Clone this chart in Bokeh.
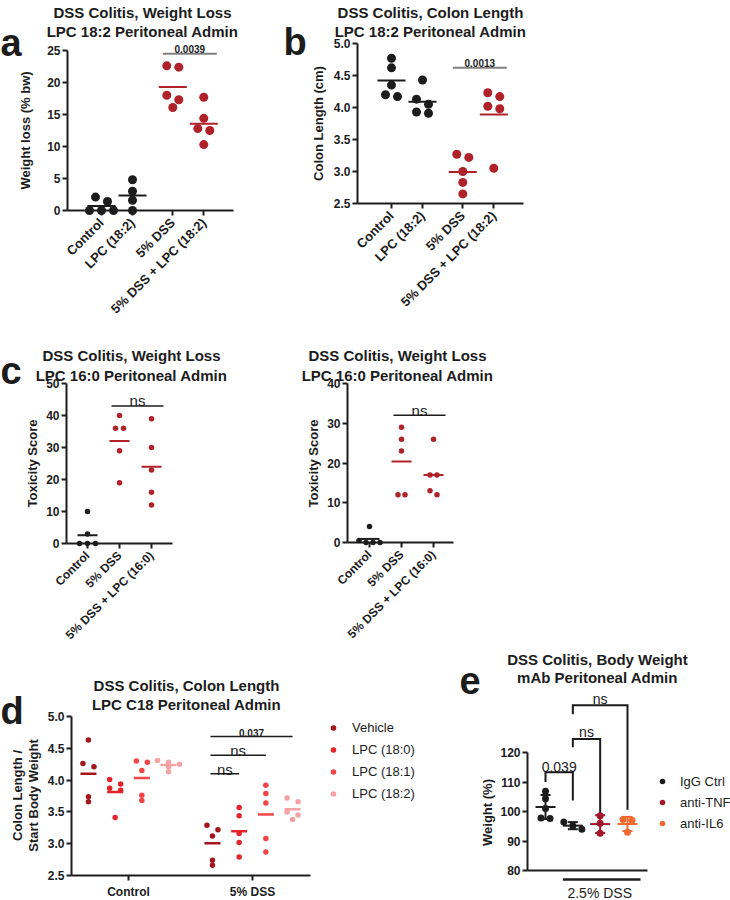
import math
from bokeh.plotting import figure
from bokeh.models import Range1d, FixedTicker, Label, Legend, LegendItem, PrintfTickFormatter
from bokeh.layouts import row, column
from bokeh.embed import file_html
from bokeh.resources import INLINE
from bokeh.core.properties import value

FONT = "Liberation Sans"
INK = "#1c1c1c"
GREY = "#808080"
RED = "#b0222a"

# ---------------- data ----------------
a_labels = ["Control", "LPC (18:2)", "5% DSS", "5% DSS + LPC (18:2)"]
a_control = [2.1, 1.4, 0.0, 0.0, 0.0]
a_lpc = [4.8, 3.0, 1.6, 0.0]
a_dss = [22.6, 22.4, 18.0, 17.3, 16.1]
a_dss_lpc = [17.7, 14.4, 12.8, 12.5, 10.3]
a_p = "0.0039"
a_bar_y = 24.5

b_labels = ["Control", "LPC (18:2)", "5% DSS", "5% DSS + LPC (18:2)"]
b_control = [4.77, 4.62, 4.35, 4.20, 4.17]
b_lpc = [4.43, 4.13, 4.05, 3.93, 3.91]
b_dss = [3.27, 3.22, 3.00, 2.83, 2.65]
b_dss_lpc = [4.23, 4.17, 4.02, 3.98, 3.05]
b_p = "0.0013"
b_bar_y = 4.62

c_labels = ["Control", "5% DSS", "5% DSS + LPC (16:0)"]
c1_control = [10, 3, 0, 0, 0]
c1_dss = [40, 36, 36, 29, 19]
c1_dss_lpc = [39, 30, 23, 16, 12]
c1_bar_y = 43
c2_control = [4, 0.5, 0, 0, 0]
c2_dss = [29, 26, 23, 12, 12]
c2_dss_lpc = [26, 17, 17, 13, 12]
c2_bar_y = 32
c_sig = "ns"

d_categories = ["Control", "5% DSS"]
d_series = ["Vehicle", "LPC (18:0)", "LPC (18:1)", "LPC (18:2)"]
d_colors = ["#a3161c", "#e5232b", "#ef4448", "#f5a2a5"]
d_vehicle = [[4.63, 4.26, 4.21, 3.74, 3.66], [3.29, 3.22, 3.12, 2.74, 2.66]]
d_lpc_180 = [[4.01, 3.94, 3.87, 3.84, 3.41], [3.57, 3.44, 3.16, 3.02, 2.79]]
d_lpc_181 = [[4.30, 4.28, 4.15, 3.76, 3.68], [3.92, 3.79, 3.64, 3.08, 2.87]]
d_lpc_182 = [[4.31, 4.28, 4.25, 4.21, 4.13], [3.72, 3.66, 3.50, 3.45, 3.38]]
d_sig_series = [1, 2, 3]
d_sig_y = [4.10, 4.39, 4.685]
d_sig_text = ["ns", "ns", "0.037"]

e_series = ["IgG Ctrl", "anti-TNF", "anti-IL6"]
e_colors = ["#1c1c1c", "#a3172d", "#f26a2f"]
e_igg_ctrl = [106.9, 104.3, 101.0, 97.8, 97.6]
e_igg_dss = [96.4, 95.2, 94.0]
e_tnf_dss = [98.6, 96.0, 92.6]
e_il6_dss = [97.3, 97.0, 93.0]
e_pairs = [(0, 1), (1, 2), (1, 3)]
e_bracket_top = [113.3, 124.6, 136.0]
e_bracket_left = [110.0, 121.8, 133.0]
e_bracket_right = [103.7, 99.6, 100.6]
e_bracket_text = ["0.039", "ns", "ns"]
e_dss_text = "2.5%  DSS"


# ---------------- helpers ----------------
class Panel:
    """A figure whose frame covers the whole canvas; axes sit at fixed data locations."""

    def __init__(self, ox, oy, w, h, xmap, ymap):
        self.ox, self.oy = ox, oy
        self.xv0, self.xp0, self.kx = xmap
        yv0, yp0, yv1, yp1 = ymap
        self.yv0, self.yp0 = yv0, yp0
        self.ky = (yp1 - yp0) / (yv1 - yv0)
        self.p = figure(width=w, height=h,
                        x_range=Range1d(self.X(ox), self.X(ox + w)),
                        y_range=Range1d(self.Y(oy + h), self.Y(oy)),
                        min_border=0, min_border_left=0, min_border_right=0,
                        min_border_top=0, min_border_bottom=0,
                        output_backend="svg", toolbar_location=None, tools="")
        p = self.p
        p.outline_line_color = None
        p.xgrid.grid_line_color = None
        p.ygrid.grid_line_color = None
        p.background_fill_color = "white"
        p.border_fill_color = "white"

    def X(self, px):
        return self.xv0 + (px - self.xp0) / self.kx

    def Y(self, py):
        return self.yv0 + (py - self.yp0) / self.ky

    def dx(self, d):
        return d / self.kx

    def dy(self, d):
        return d / abs(self.ky)

    def label(self, px, py, text, size, bold=False, align="center",
              baseline="alphabetic", angle=0.0):
        self.p.add_layout(Label(x=self.X(px), y=self.Y(py), text=text,
                                text_font=FONT, text_font_size=f"{size}px",
                                text_font_style="bold" if bold else "normal",
                                text_align=align, text_baseline=baseline,
                                angle=angle, text_color=INK))


def swarm(vals, px_per_unit, spacing, thresh):
    order = sorted(range(len(vals)), key=lambda i: -vals[i])
    rows = []
    for i in order:
        if rows and (vals[rows[-1][0]] - vals[i]) * px_per_unit < thresh:
            rows[-1].append(i)
        else:
            rows.append([i])
    offs = [0.0] * len(vals)
    for r in rows:
        n = len(r)
        for j, i in enumerate(r):
            offs[i] = (j - (n - 1) / 2) * spacing
    return offs


def style_axes(P, yaxis_px, yticks, ybounds, xaxis_val, xbounds_px, xticks, xlabels,
               rotate=True, yfmt=None, xsize="13px", xticks_visible=True):
    p = P.p
    ya, xa = p.yaxis[0], p.xaxis[0]
    for ax in (ya, xa):
        ax.axis_line_width = 2
        ax.axis_line_color = INK
        ax.major_tick_line_width = 2
        ax.major_tick_line_color = INK
        ax.major_tick_in = 0
        ax.major_tick_out = 5
        ax.minor_tick_line_color = None
        ax.major_label_text_font = FONT
        ax.major_label_text_font_style = "bold"
        ax.major_label_text_color = INK
    ya.fixed_location = P.X(yaxis_px)
    ya.ticker = FixedTicker(ticks=list(yticks))
    ya.bounds = ybounds
    ya.major_label_text_font_size = "12px"
    ya.major_label_standoff = 2
    if yfmt:
        ya.formatter = PrintfTickFormatter(format=yfmt)
    xa.fixed_location = xaxis_val
    xa.bounds = (P.X(xbounds_px[0]), P.X(xbounds_px[1]))
    xa.ticker = FixedTicker(ticks=list(xticks))
    xa.major_label_overrides = dict(zip(xticks, xlabels))
    xa.major_label_text_font_size = xsize
    xa.major_label_standoff = 5
    if rotate:
        xa.major_label_orientation = math.pi / 4
    if not xticks_visible:
        xa.major_tick_line_color = None


def dot_plot(P, positions, groups, colors, size, spacing, thresh, half_px, lw):
    for x, vals, col in zip(positions, groups, colors):
        offs = swarm(vals, abs(P.ky), spacing, thresh)
        P.p.scatter([x + P.dx(o) for o in offs], vals, size=size,
                    fill_color=col, line_color=None)
        m = sum(vals) / len(vals)
        P.p.segment([x - P.dx(half_px)], [m], [x + P.dx(half_px)], [m],
                    line_color=col, line_width=lw)


def sig_bar(P, x0, x1, y, text, size, bold, gap, color, lw=2):
    P.p.segment([x0], [y], [x1], [y], line_color=color, line_width=lw)
    P.p.text([(x0 + x1) / 2], [y + P.dy(gap)], text=[text],
             text_font=value(FONT), text_font_size=f"{size}px",
             text_font_style="bold" if bold else "normal",
             text_align="center", text_baseline="alphabetic", text_color=INK)


# ---------------- panel a ----------------
A = Panel(0, 0, 250, 315, (0, 101, 31), (0, 210, 25, 50))
a_pos = [i + (0.3 if i >= 2 else 0) for i in range(4)]
dot_plot(A, a_pos, [a_control, a_lpc, a_dss, a_dss_lpc], [INK, INK, RED, RED],
         9, 12, 7, 14, 2)
sig_bar(A, a_pos[2] - A.dx(10), a_pos[3] + A.dx(13), a_bar_y, a_p, 10, True, 4.5, GREY)
style_axes(A, 67, range(0, 26, 5), (0, 25), 0, (67, 233), a_pos, a_labels)
A.label(0, 42, "a", 38, bold=True, align="left")
A.label(142, 12, "DSS Colitis, Weight Loss", 15, bold=True)
A.label(142, 30.5, "LPC 18:2 Peritoneal Admin", 15, bold=True)
A.label(25, 130, "Weight loss (% bw)", 13, bold=True, baseline="middle", angle=math.pi / 2)

# ---------------- panel b ----------------
B = Panel(250, 0, 480, 315, (0, 391, 31), (2.5, 203, 5.0, 43))
dot_plot(B, a_pos, [b_control, b_lpc, b_dss, b_dss_lpc], [INK, INK, RED, RED],
         9, 12, 7, 14, 2)
sig_bar(B, a_pos[2] - B.dx(10), a_pos[3] + B.dx(13), b_bar_y, b_p, 10, True, 4.5, GREY)
style_axes(B, 357, [2.5, 3.0, 3.5, 4.0, 4.5, 5.0], (2.5, 5.0), 2.5, (357, 523),
           a_pos, b_labels, yfmt="%.1f")
B.label(283, 41, "b", 38, bold=True, align="left")
B.label(430, 12, "DSS Colitis, Colon Length", 15, bold=True)
B.label(430, 30.5, "LPC 18:2 Peritoneal Admin", 15, bold=True)
B.label(318, 123, "Colon Length (cm)", 13, bold=True, baseline="middle", angle=math.pi / 2)

# ---------------- panel c (left) ----------------
c_pos = [0, 1, 2]
C1 = Panel(0, 315, 250, 330, (0, 87, 32), (0, 543, 50, 383))
dot_plot(C1, c_pos, [c1_control, c1_dss, c1_dss_lpc], [INK, RED, RED], 5.5, 8, 4.5, 10, 2)
sig_bar(C1, c_pos[1] - C1.dx(8), c_pos[2] + C1.dx(12), c1_bar_y, c_sig, 15, False, 5, INK, 1.5)
style_axes(C1, 66, range(0, 51, 10), (0, 50), 0, (66, 172), c_pos, c_labels, xsize="12px")
C1.label(0, 370, "c", 38, bold=True, align="left")
C1.label(131, 355, "DSS Colitis, Weight Loss", 15, bold=True)
C1.label(131, 375, "LPC 16:0 Peritoneal Admin", 15, bold=True)
C1.label(32, 463, "Toxicity Score", 13, bold=True, baseline="middle", angle=math.pi / 2)

# ---------------- panel c (right) ----------------
C2 = Panel(250, 315, 480, 330, (0, 369, 32), (0, 542, 40, 383))
dot_plot(C2, c_pos, [c2_control, c2_dss, c2_dss_lpc], [INK, RED, RED], 5.5, 7, 4.5, 10, 2)
sig_bar(C2, c_pos[1] - C2.dx(8), c_pos[2] + C2.dx(12), c2_bar_y, c_sig, 15, False, 5, INK, 1.5)
style_axes(C2, 347, range(0, 41, 10), (0, 40), 0, (347, 453), c_pos, c_labels, xsize="12px")
C2.label(397, 355, "DSS Colitis, Weight Loss", 15, bold=True)
C2.label(397, 375, "LPC 16:0 Peritoneal Admin", 15, bold=True)
C2.label(313, 463, "Toxicity Score", 13, bold=True, baseline="middle", angle=math.pi / 2)

# ---------------- panel d ----------------
D = Panel(0, 645, 460, 255, (0, 128, 124), (2.5, 875, 5.0, 716))
d_data = [d_vehicle, d_lpc_180, d_lpc_181, d_lpc_182]
d_step = D.dx(26.7)
d_renderers = []
for i, (series, col) in enumerate(zip(d_data, d_colors)):
    xs, ys = [], []
    for c, vals in enumerate(series):
        xc = c + (i - 1.5) * d_step
        offs = swarm(vals, abs(D.ky), 11, 4.5)
        xs += [xc + D.dx(o) for o in offs]
        ys += vals
        m = sum(vals) / len(vals)
        D.p.segment([xc - D.dx(8)], [m], [xc + D.dx(8)], [m], line_color=col, line_width=2.5)
    r = D.p.scatter(xs, ys, size=5.5, fill_color=col, line_color=None)
    d_renderers.append(r)
vx = 1 + (0 - 1.5) * d_step
for t, yv, txt in zip(d_sig_series, d_sig_y, d_sig_text):
    xt = 1 + (t - 1.5) * d_step
    if txt == "ns":
        sig_bar(D, vx - D.dx(2), xt, yv, txt, 15, False, 4.5, INK, 1.5)
    else:
        sig_bar(D, vx - D.dx(2), xt, yv, txt, 10, True, 3.5, INK, 1.5)
style_axes(D, 71, [2.5, 3.0, 3.5, 4.0, 4.5, 5.0], (2.5, 5.0), 2.5, (71, 310),
           [0, 1], d_categories, rotate=False, yfmt="%.1f", xsize="12px")
D.p.xaxis[0].major_label_standoff = 4
leg_d = Legend(items=[LegendItem(label=n, renderers=[r]) for n, r in zip(d_series, d_renderers)],
               location=(326, 98.5), padding=0, spacing=5, glyph_width=14, glyph_height=17,
               label_height=17, label_standoff=12, border_line_color=None,
               background_fill_alpha=0, label_text_font=FONT, label_text_font_size="13px",
               label_text_color=INK)
D.p.add_layout(leg_d)
D.label(0, 710, "d", 38, bold=True, align="left")
D.label(186, 685, "DSS Colitis, Colon Length", 15, bold=True)
D.label(186, 704, "LPC C18 Peritoneal Admin", 15, bold=True)
D.label(17, 795, "Colon Length /", 13, bold=True, baseline="middle", angle=math.pi / 2)
D.label(33, 795, "Start Body Weight", 13, bold=True, baseline="middle", angle=math.pi / 2)

# ---------------- panel e ----------------
E = Panel(460, 645, 270, 255, (0, 545, 27.33), (80, 870, 120, 752))
e_pos = [0, 1, 2, 3]
e_groups = [e_igg_ctrl, e_igg_dss, e_tnf_dss, e_il6_dss]
e_group_color = [0, 0, 1, 2]
e_pts = {0: ([], []), 1: ([], []), 2: ([], [])}
for x, vals, ci in zip(e_pos, e_groups, e_group_color):
    offs = swarm(vals, abs(E.ky), 9, 7.5)
    e_pts[ci][0].extend([x + E.dx(o) for o in offs])
    e_pts[ci][1].extend(vals)
e_renderers = []
for ci in range(3):
    r = E.p.scatter(e_pts[ci][0], e_pts[ci][1], size=7, fill_color=e_colors[ci], line_color=None)
    e_renderers.append(r)
for x, vals, ci in zip(e_pos, e_groups, e_group_color):
    n = len(vals)
    m = sum(vals) / n
    sd = math.sqrt(sum((v - m) ** 2 for v in vals) / (n - 1))
    col = e_colors[ci]
    E.p.segment([x, x - E.dx(5), x - E.dx(5), x - E.dx(10)],
                [m - sd, m + sd, m - sd, m],
                [x, x + E.dx(5), x + E.dx(5), x + E.dx(10)],
                [m + sd, m + sd, m - sd, m], line_color=col, line_width=2)
for (i, j), top, lb, rb, txt in zip(e_pairs, e_bracket_top, e_bracket_left,
                                   e_bracket_right, e_bracket_text):
    E.p.line([e_pos[i], e_pos[i], e_pos[j], e_pos[j]], [lb, top, top, rb],
             line_color=INK, line_width=2, line_join="miter")
    gap = 5 if txt != "ns" else 6.5
    E.p.text([(e_pos[i] + e_pos[j]) / 2], [top + E.dy(gap)], text=[txt],
             text_font=value(FONT), text_font_size="14px", text_align="center",
             text_baseline="alphabetic", text_color=INK)
dss_x0, dss_x1 = e_pos[1] - E.dx(10), e_pos[3] + E.dx(13)
dss_y = 80 - E.dy(9)
E.p.segment([dss_x0], [dss_y], [dss_x1], [dss_y], line_color=INK, line_width=2.5)
E.p.text([(dss_x0 + dss_x1) / 2], [dss_y - E.dy(13)], text=[e_dss_text],
         text_font=value(FONT), text_font_size="14px", text_align="center",
         text_baseline="alphabetic", text_color=INK)
style_axes(E, 527, range(80, 121, 10), (80, 120), 80, (527, 647), [], [],
           rotate=False, xticks_visible=False)
leg_e = Legend(items=[LegendItem(label=n, renderers=[r]) for n, r in zip(e_series, e_renderers)],
               location=(195, 69), padding=0, spacing=5, glyph_width=14, glyph_height=16,
               label_height=16, label_standoff=11, border_line_color=None,
               background_fill_alpha=0, label_text_font=FONT, label_text_font_size="13px",
               label_text_color=INK)
E.p.add_layout(leg_e)
E.label(459, 680, "e", 38, bold=True, align="left")
E.label(597, 659, "DSS Colitis, Body Weight", 15, bold=True)
E.label(597, 677, "mAb Peritoneal Admin", 15, bold=True)
E.label(487, 812, "Weight (%)", 13, bold=True, baseline="middle", angle=math.pi / 2)

layout = column(row(A.p, B.p), row(C1.p, C2.p), row(D.p, E.p))
open("out.html", "w").write(file_html(layout, INLINE))
